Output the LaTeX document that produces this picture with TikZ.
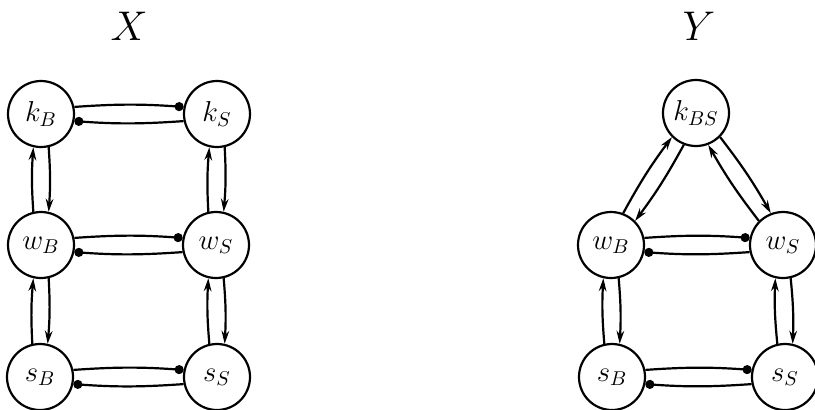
\documentclass[tikz,border=0pt]{standalone}
\usetikzlibrary{arrows.meta}
\begin{document}
\begin{tikzpicture}[x=0.5pt,y=-0.5pt,
  state/.style={circle,draw,line width=1.1pt,minimum size=33pt,inner sep=0pt,font=\Large},
  conn/.style={line width=1.1pt},
  arr/.style={conn,-{Stealth[length=6.5pt,width=3.8pt]}},
  dot/.style={conn,-{Circle[length=4.5pt]}},
  title/.style={font=\huge}]
\useasboundingbox (0,0) rectangle (815,409);
\node[title] (tX) at (129,26) {$X$};
\node[title] (tY) at (699,26) {$Y$};
% X
\node[state] (kB) at (41,114) {$k_B$};
\node[state] (kS) at (217,114) {$k_S$};
\node[state] (wB) at (41,245) {$w_B$};
\node[state] (wS) at (216,245) {$w_S$};
\node[state] (sB) at (40,377) {$s_B$};
\node[state] (sS) at (217,377) {$s_S$};
% Y
\node[state] (kBS) at (696,113) {$k_{BS}$};
\node[state] (wB2) at (611,245) {$w_B$};
\node[state] (wS2) at (783,245) {$w_S$};
\node[state] (sB2) at (612,377) {$s_B$};
\node[state] (sS2) at (785,377) {$s_S$};
% horizontal pairs
\foreach \a/\b in {kB/kS,wB/wS,sB/sS,wB2/wS2,sB2/sS2}{
  \draw[dot] (\a.12) to[bend left=4] (\b.168);
  \draw[dot] (\b.192) to[bend left=4] (\a.348);
}
% vertical pairs
\foreach \t/\u in {kB/wB,wB/sB,kS/wS,wS/sS,wB2/sB2,wS2/sS2}{
  \draw[arr] (\u.103) to[bend left=4] (\t.257);
  \draw[arr] (\t.283) to[bend left=4] (\u.77);
}
% triangle
\draw[arr] (wB2.69) to[bend left=4] (kBS.225);
\draw[arr] (kBS.249) to[bend left=4] (wB2.45);
\draw[arr] (kBS.315) to[bend left=4] (wS2.111);
\draw[arr] (wS2.135) to[bend left=4] (kBS.291);
\end{tikzpicture}
\end{document}
